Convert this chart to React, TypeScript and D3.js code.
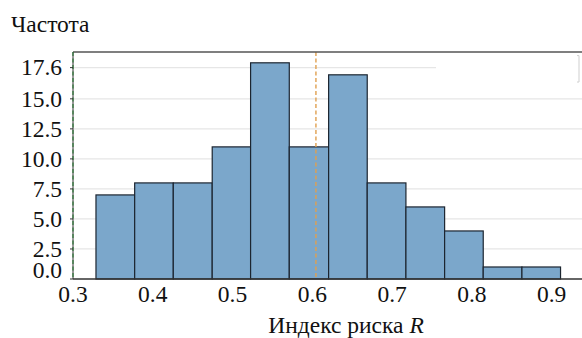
import * as d3 from 'd3';

// histogram bins (edges) and counts
const binEdges = [0.3288, 0.3773, 0.4257, 0.4745, 0.5226, 0.5711, 0.6204, 0.6688, 0.7173, 0.7658, 0.8142, 0.8627, 0.9111];
const counts = [7, 8, 8, 11, 18, 11, 17, 8, 6, 4, 1, 1];
const yTicks = [0, 2.5, 5, 7.5, 10, 12.5, 15, 17.6];
const yTickLabels = ['0.0', '2.5', '5.0', '7.5', '10.0', '12.5', '15.0', '17.6'];
const xTicks = [0.3, 0.4, 0.5, 0.6, 0.7, 0.8, 0.9];
const meanLine = 0.6045;
const minLine = 0.3;

const width = 582;
const height = 338;
const margin = { top: 52, right: 0, bottom: 59, left: 73 };
const fs = 23.5;

const App = () => {
    const xScale = d3.scaleLinear().domain([0.3, 0.938]).range([margin.left, width - margin.right]);
    const yScale = d3.scaleLinear().domain([0, 18.9]).range([height - margin.bottom, margin.top]);

    const bins = counts.map((c, i) => ({ x0: binEdges[i], x1: binEdges[i + 1], count: c }));
    const y0 = yScale(0);

    return (
        <div style={{ position: 'absolute', left: 0, top: 0, fontFamily: 'Liberation Serif' }}>
            <svg width={width} height={height} fontFamily="Liberation Serif" style={{ display: 'block' }}>
                <rect width={width} height={height} fill="#fff" />

                {/* gridlines */}
                {yTicks.slice(1).map((t) => (
                    <line key={t} x1={margin.left} x2={width} y1={yScale(t)} y2={yScale(t)} stroke="#e6e6e6" strokeWidth={1.2} />
                ))}

                {/* legend box (clipped on the right) */}
                <rect x={436} y={yScale(18.6)} width={160} height={yScale(16.4) - yScale(18.6)} fill="#fff" />
                <path d={`M577,${yScale(18.6)} h2 V${yScale(16.4)} h-2`} fill="none" stroke="#cfcfcf" strokeWidth={1} />

                {/* bars */}
                {bins.map((b, i) => (
                    <rect
                        key={i}
                        x={xScale(b.x0)}
                        y={yScale(b.count)}
                        width={xScale(b.x1) - xScale(b.x0)}
                        height={y0 - yScale(b.count)}
                        fill="#7ba7cb"
                        stroke="#1c2530"
                        strokeWidth={1.2}
                    />
                ))}

                {/* vertical reference lines */}
                <line x1={xScale(meanLine)} x2={xScale(meanLine)} y1={margin.top} y2={y0} stroke="#e0a050" strokeWidth={1.4} strokeDasharray="4,2.5" />

                {/* spines */}
                <line x1={margin.left} x2={width} y1={margin.top} y2={margin.top} stroke="#555" strokeWidth={1.4} />
                <line x1={margin.left} x2={width} y1={y0} y2={y0} stroke="#333" strokeWidth={1.4} />
                <line x1={margin.left} x2={margin.left} y1={margin.top} y2={y0} stroke="#333" strokeWidth={1} />
                <line x1={xScale(minLine)} x2={xScale(minLine)} y1={margin.top} y2={y0} stroke="#2f7a3a" strokeWidth={1.2} strokeDasharray="4,2.5" />

                {/* y axis */}
                {yTicks.map((t, i) => (
                    <g key={t}>
                        <line x1={margin.left - 3} x2={margin.left} y1={yScale(t)} y2={yScale(t)} stroke="#333" strokeWidth={1} />
                        <text x={62} y={yScale(t)} dy={i === 0 ? '-0.05em' : '0.33em'} textAnchor="end" fontFamily="Liberation Serif" fontSize={fs} fill="#111">
                            {yTickLabels[i]}
                        </text>
                    </g>
                ))}

                {/* x axis */}
                {xTicks.map((t) => (
                    <text key={t} x={xScale(t)} y={302} textAnchor="middle" fontFamily="Liberation Serif" fontSize={fs} fill="#111">
                        {t.toFixed(1)}
                    </text>
                ))}

                <text x={11} y={32} fontFamily="Liberation Serif" fontSize={fs} fill="#111">Частота</text>
                <text x={346} y={333} textAnchor="middle" fontFamily="Liberation Serif" fontSize={fs} fill="#111">
                    Индекс риска <tspan fontStyle="italic">R</tspan>
                </text>
            </svg>
        </div>
    );
};

export default App;
